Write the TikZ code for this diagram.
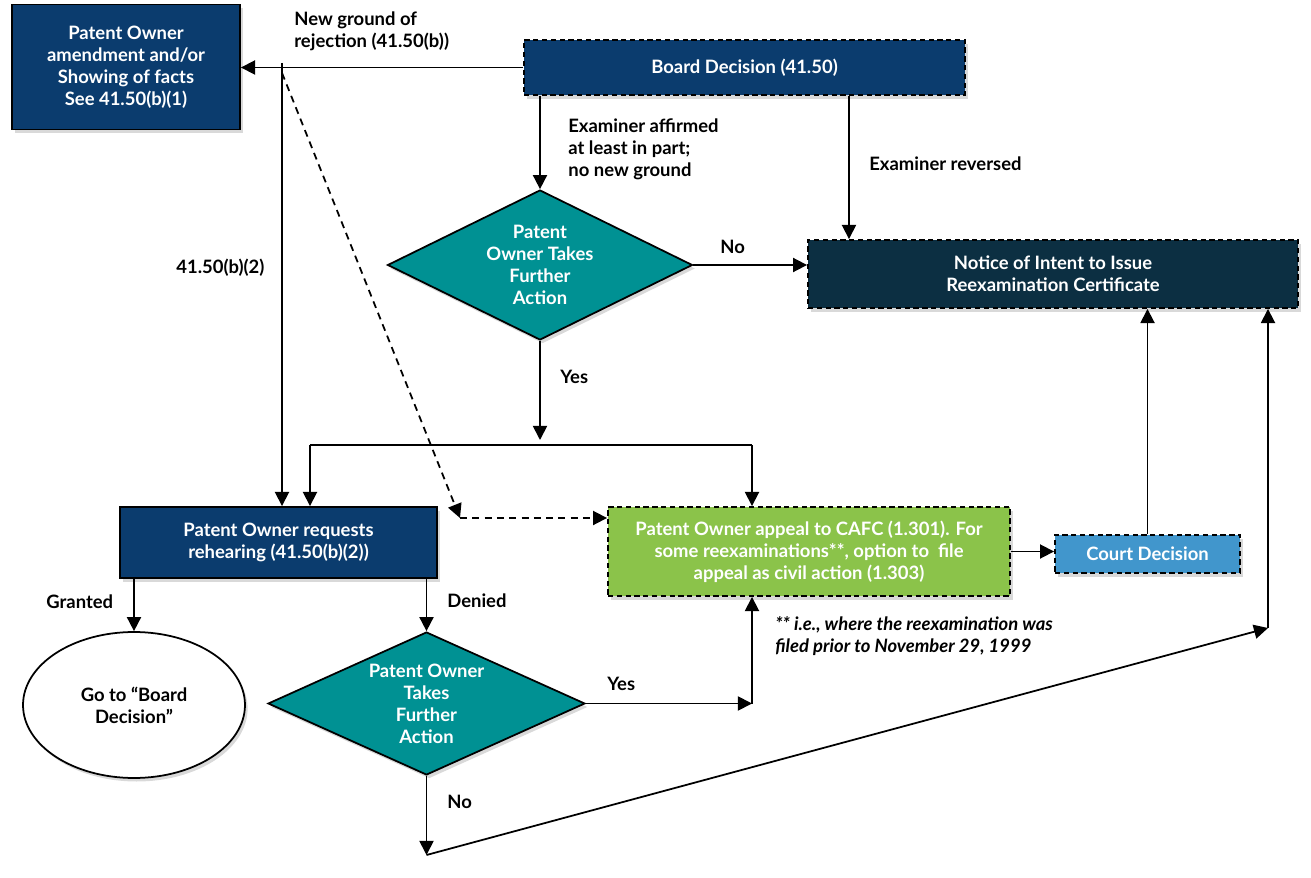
\documentclass[tikz,border=0pt]{standalone}
\usepackage{fontspec}
\setmainfont{Lato}
\usetikzlibrary{arrows.meta,shapes.geometric,positioning,calc,shadows}
\definecolor{navy}{RGB}{11,60,110}
\definecolor{deepnavy}{RGB}{12,47,66}
\definecolor{tealbox}{RGB}{0,145,147}
\definecolor{greenbox}{RGB}{139,195,74}
\definecolor{courtblue}{RGB}{65,150,204}
\newcommand\flowfont{\fontsize{10.5}{12.5}\selectfont\bfseries}
\tikzset{
  >={Triangle[length=8pt,width=8pt]},
  flow/.style     = {->, line width=1pt},
  dflow/.style    = {->, line width=1pt, dash pattern=on 4pt off 3pt},
  block/.style    = {draw, line width=1.1pt, rectangle, fill=navy, text=white, font=\flowfont, align=center,
                     drop shadow={shadow xshift=1.5pt, shadow yshift=-2pt, opacity=0.3}},
  dblock/.style   = {block, dash pattern=on 3pt off 2pt},
  choice/.style   = {draw, line width=1pt, diamond, fill=tealbox, text=white, font=\flowfont, align=center,
                     inner sep=0pt, shape aspect=2.1,
                     drop shadow={shadow xshift=1.5pt, shadow yshift=-2pt, opacity=0.3}},
  terminal/.style = {draw, line width=1pt, ellipse, fill=white, font=\flowfont, align=center,
                     drop shadow={shadow xshift=1.5pt, shadow yshift=-2pt, opacity=0.3}},
  note/.style     = {font=\flowfont, align=left, anchor=west, inner sep=0pt}
}

\begin{document}
\begin{tikzpicture}[x=0.02cm, y=-0.02cm]
  \useasboundingbox (0,0) rectangle (1311,878);
  % boxes
  \node[block, minimum width=4.56cm, minimum height=2.5cm] (amend) at (126,67)
    {Patent Owner\\amendment and/or\\Showing of facts\\See 41.50(b)(1)};
  \node[dblock, minimum width=8.82cm, minimum height=1.1cm] (board) at (744.5,67.5)
    {Board Decision (41.50)};
  \node[choice, minimum width=6.1cm, minimum height=3cm] (act1) at (540,265)
    {Patent\\Owner Takes\\Further\\Action};
  \node[dblock, fill=deepnavy, minimum width=9.8cm, minimum height=1.36cm] (notice) at (1053,274)
    {Notice of Intent to Issue\\Reexamination Certificate};
  \node[block, minimum width=6.34cm, minimum height=1.42cm] (rehear) at (278.5,542.5)
    {Patent Owner requests\\rehearing (41.50(b)(2))};
  \node[dblock, fill=greenbox, minimum width=8.04cm, minimum height=1.78cm] (cafc) at (809,551.5)
    {Patent Owner appeal to CAFC (1.301). For\\some reexaminations**, option to\ \ file\\appeal as civil action (1.303)};
  \node[dblock, fill=courtblue, minimum width=3.7cm, minimum height=0.76cm] (court) at (1147.5,554)
    {Court Decision};
  \node[terminal, minimum width=4.44cm, minimum height=2.92cm] (goto) at (134,705)
    {Go to “Board\\Decision”};
  \node[choice, minimum width=6.34cm, minimum height=2.86cm] (act2) at (426.5,703.5)
    {Patent Owner\\Takes\\Further\\Action};

  % free ends
  \coordinate (fork) at (282,63);
  \coordinate (dashbend) at (460,518);
  \coordinate (yesjoin) at (540,440);
  \coordinate (lj) at (310,445);
  \coordinate (rj) at (752,445);
  \coordinate (yes2) at (752,703.5);
  \coordinate (no2) at (426.5,855);
  \coordinate (back) at (1268,628);

  % connectors
  \draw[flow] (board.west) -- (amend.east |- board.west);
  \draw[flow] (fork) -- (fork |- rehear.north);
  \draw[dflow] ([yshift=-0.2cm]fork) -- (dashbend);
  \draw[dflow] (dashbend) -- (dashbend -| cafc.west);
  \draw[flow] (board.south -| act1.north) -- (act1.north);
  \draw[flow] ([xshift=2.09cm]board.south) -- ([xshift=2.09cm]board.south |- notice.north);
  \draw[flow] (act1.east) -- (act1.east -| notice.west);
  \draw[flow] (act1.south) -- (yesjoin);
  \draw[line width=1pt] (lj) -- (rj);
  \draw[flow] (lj) -- (lj |- rehear.north);
  \draw[flow] (rj) -- (rj |- cafc.north);
  \draw[flow] (rehear.south -| goto.north) -- (goto.north);
  \draw[flow] (rehear.south -| act2.north) -- (act2.north);
  \draw[flow] (act2.east) -- (yes2);
  \draw[flow] (yes2) -- (yes2 |- cafc.south);
  \draw[flow] (act2.south) -- (no2);
  \draw[flow] (no2) -- (back);
  \draw[flow] (back) -- (back |- notice.south);
  \draw[flow] (cafc.east) -- (cafc.east -| court.west);
  \draw[flow] (court.north) -- (court.north |- notice.south);

  % labels
  \node[note] (lnew) at (294,31) {New ground of\\rejection (41.50(b))};
  \node[note] (lbtwo) at (176,268) {41.50(b)(2)};
  \node[note] (laff) at (568,149) {Examiner affirmed\\at least in part;\\no new ground};
  \node[note] (lrev) at (869,164) {Examiner reversed};
  \node[note] (lnoone) at (720,247) {No};
  \node[note] (lyesone) at (560,377) {Yes};
  \node[note] (lgrant) at (46,602) {Granted};
  \node[note] (ldeny) at (447,601) {Denied};
  \node[note] (lyestwo) at (607,684) {Yes};
  \node[note] (lnotwo) at (447,802) {No};
  \node[note, font=\flowfont\itshape] (lfoot) at (775,636)
    {** i.e., where the reexamination was\\filed prior to November 29, 1999};
\end{tikzpicture}
\end{document}
